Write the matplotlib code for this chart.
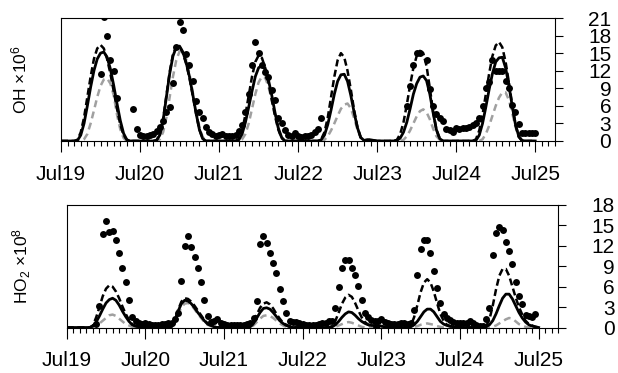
import numpy as np
import matplotlib
matplotlib.use("Agg")
from matplotlib import pyplot as plt

plt.rcParams["font.family"] = ["Liberation Sans", "DejaVu Sans"]
plt.rcParams["mathtext.fontset"] = "custom"
plt.rcParams["mathtext.rm"] = "Liberation Sans"
plt.rcParams["mathtext.it"] = "Liberation Sans"

nan = np.nan

# hourly values from Jul19 00:00 (one row per day, last entry = Jul25 00:00)
oh_obs = [
    nan, nan, nan, nan, nan, nan, nan, nan, nan, nan, nan, nan, 11.5, 21.1, 18.0, 13.9, 12.0, 7.4, nan, nan, nan, nan, 5.4, 2.0,
    1.0, 0.85, 0.9, 1.0, 1.2, 1.7, 2.4, 3.4, 4.9, 5.8, 9.9, 16.1, 20.4, 18.9, 14.9, 12.9, 10.3, 6.9, 5.0, 3.9, 2.4, 1.5, 1.2, 0.9,
    1.0, 1.2, 0.85, 0.9, 0.85, 1.0, 1.75, 2.7, 5.0, 8.1, 13.0, 16.9, 15.0, 13.0, 11.8, 10.9, 8.7, 7.0, 4.0, 3.0, 1.9, 1.0, 0.85, 1.4,
    0.85, 0.6, 0.85, 0.85, 1.0, 1.5, 2.0, 4.0, nan, nan, nan, nan, nan, nan, nan, nan, nan, nan, nan, nan, nan, nan, nan, nan,
    nan, nan, nan, nan, nan, nan, nan, nan, nan, 5.9, 9.4, 12.9, 15.0, 15.0, nan, 13.9, 8.9, 6.0, 4.6, 4.0, 3.4, 2.0, 1.9, 1.6,
    2.2, 2.1, 2.2, 2.2, 2.4, 2.7, 3.0, 4.0, 5.9, 9.0, 10.0, 13.9, 12.0, 12.0, 12.0, 10.2, 9.0, 6.2, 5.0, 2.9, 1.4, 1.4, 1.4, 1.4,
    1.4,
]
oh_mod_a = [
    0, 0, 0, 0, 0, 0.1, 1.0, 3.0, 6.0, 9.2, 12.0, 14.0, 15.0, 15.2, 14.3, 12.3, 9.5, 6.4, 3.5, 1.3, 0.2, 0, 0, 0,
    0, 0, 0, 0, 0, 0.1, 1.0, 3.5, 7.5, 11.5, 14.5, 16.0, 16.2, 15.2, 13.4, 11.0, 8.0, 4.8, 2.0, 0.4, 0, 0, 0, 0,
    0, 0, 0, 0, 0, 0, 0.2, 1.2, 3.2, 5.8, 8.5, 11.0, 12.5, 12.9, 12.2, 10.4, 7.8, 4.8, 2.2, 0.6, 0, 0, 0, 0,
    0, 0, 0, 0, 0, 0, 0, 0.2, 1.0, 2.8, 5.3, 8.0, 10.2, 11.3, 11.4, 10.2, 7.8, 4.9, 2.3, 0.6, 0.1, 0.2, 0.2, 0.1,
    0, 0, 0, 0, 0, 0, 0.1, 0.5, 1.5, 3.2, 5.5, 8.0, 9.8, 10.9, 11.1, 10.3, 8.0, 4.8, 1.9, 0.4, 0, 0, 0, 0,
    0, 0, 0, 0, 0, 0, 0.1, 1.0, 3.0, 5.8, 8.8, 11.5, 13.5, 14.2, 14.3, 12.5, 9.5, 6.0, 2.8, 0.8, 0.1, 0, 0, 0,
    0,
]
oh_mod_b = [
    0, 0, 0, 0, 0, 0.2, 1.5, 4.0, 7.5, 11.0, 14.0, 15.8, 16.4, 15.8, 14.0, 11.5, 8.5, 5.5, 2.8, 1.0, 0.2, 0, 0, 0,
    0, 0, 0, 0, 0, 0.1, 1.1, 3.7, 7.8, 11.8, 14.8, 16.1, 16.2, 15.0, 13.2, 10.8, 7.8, 4.7, 2.0, 0.4, 0, 0, 0, 0,
    0, 0, 0, 0, 0, 0, 0.3, 1.8, 4.5, 7.8, 11.0, 13.5, 14.6, 14.2, 12.5, 10.0, 7.0, 4.2, 1.9, 0.5, 0, 0, 0, 0,
    0, 0, 0, 0, 0, 0, 0, 0.3, 1.5, 4.0, 7.5, 11.0, 13.8, 15.0, 14.3, 12.0, 8.8, 5.3, 2.4, 0.6, 0.1, 0.2, 0.2, 0.1,
    0, 0, 0, 0, 0, 0, 0.2, 1.2, 3.2, 6.2, 9.5, 12.5, 14.5, 15.4, 15.0, 12.8, 9.0, 5.0, 1.9, 0.4, 0, 0, 0, 0,
    0, 0, 0, 0, 0, 0, 0.3, 1.8, 4.5, 8.0, 11.5, 14.5, 16.3, 16.9, 16.0, 13.5, 10.0, 6.2, 2.8, 0.7, 0, 0, 0, 0,
    0,
]
oh_mod_c = [
    0, 0, 0, 0, 0, 0, 0, 0.3, 1.2, 3.0, 5.2, 7.5, 9.4, 10.5, 10.7, 9.8, 7.8, 4.5, 2.0, 0.5, 0, 0, 0, 0,
    0, 0, 0, 0, 0, 0, 0.3, 1.5, 4.0, 7.5, 11.0, 13.8, 15.3, 15.4, 14.0, 11.5, 8.4, 5.2, 2.5, 0.7, 0, 0, 0, 0,
    0, 0, 0, 0, 0, 0, 0, 0.3, 1.2, 3.0, 5.5, 8.0, 10.0, 11.0, 10.8, 9.3, 7.0, 4.5, 2.0, 0.5, 0, 0, 0, 0,
    0, 0, 0, 0, 0, 0, 0, 0, 0.2, 0.8, 1.8, 3.0, 4.3, 5.5, 6.2, 6.4, 5.6, 3.9, 2.0, 0.6, 0.1, 0.1, 0.1, 0,
    0, 0, 0, 0, 0, 0, 0, 0, 0.2, 0.8, 1.8, 3.0, 4.2, 5.1, 5.4, 4.9, 3.7, 2.1, 0.8, 0.2, 0, 0, 0, 0,
    0, 0, 0, 0, 0, 0, 0, 0, 0.3, 1.2, 2.6, 4.3, 6.0, 7.4, 8.3, 8.3, 7.0, 4.8, 2.4, 0.7, 0.1, 0, 0, 0,
    0,
]

ho2_obs = [
    nan, nan, nan, nan, nan, nan, nan, nan, nan, 0.5, 3.1, 13.8, 15.7, 14.1, 14.2, 12.9, 11.0, 8.7, 6.7, 4.0, 1.6, 0.9, 0.6, 0.5,
    0.6, 0.5, 0.4, 0.4, 0.4, 0.5, 0.5, 0.6, 0.7, 1.2, 2.2, 6.9, 12.0, 13.4, 11.8, 10.3, 8.8, 6.7, 4.0, 1.7, 0.8, 0.9, 1.3, 0.6,
    0.5, 0.4, 0.4, 0.3, 0.4, 0.3, 0.4, 0.5, 0.7, 1.35, 3.9, 12.3, 13.4, 12.4, 11.0, 9.5, 8.0, 5.7, 3.9, 2.1, 0.9, 0.8, 0.8, 0.7,
    0.5, 0.4, 0.3, 0.3, 0.4, 0.5, 0.6, 0.7, 0.9, 1.0, 2.8, 5.9, 8.8, 9.9, 9.9, 8.8, 7.7, 6.1, 4.1, 2.2, 1.5, 1.1, 1.0, 0.9,
    1.3, 0.8, 0.6, 0.5, 0.5, 0.5, 0.6, 0.7, 0.5, 0.7, 2.6, 7.7, 11.6, 12.9, 12.9, 10.9, 8.35, 5.8, 3.6, 2.0, 1.4, 1.1, 0.8, 0.7,
    0.6, 0.6, 0.7, 1.0, 0.6, 0.3, 0.2, 0.2, 1.2, 2.9, 10.7, 13.85, 14.8, 14.3, 12.5, 11.2, 9.3, 6.7, 4.6, 3.5, 1.8, 1.7, 1.5, 2.0,
    nan,
]
ho2_mod_a = [
    0, 0, 0, 0, 0, 0, 0, 0, 0.2, 0.8, 1.7, 2.7, 3.6, 4.1, 4.3, 4.0, 3.3, 2.4, 1.6, 0.9, 0.4, 0.2, 0.1, 0,
    0, 0, 0, 0, 0, 0, 0, 0, 0.1, 0.9, 2.4, 3.5, 4.0, 3.9, 3.5, 2.9, 2.2, 1.6, 1.0, 0.5, 0.3, 0.1, 0, 0,
    0, 0, 0, 0, 0, 0, 0, 0, 0.1, 0.6, 1.4, 2.2, 2.8, 2.9, 2.7, 2.2, 1.6, 1.0, 0.6, 0.3, 0.1, 0, 0, 0,
    0, 0, 0, 0, 0, 0, 0, 0, 0, 0.1, 0.4, 0.9, 1.5, 2.0, 2.3, 2.2, 1.8, 1.3, 0.9, 0.6, 0.4, 0.3, 0.3, 0.3,
    0.2, 0.1, 0, 0, 0, 0, 0, 0, 0, 0.1, 0.4, 0.9, 1.6, 2.3, 2.7, 2.7, 2.3, 1.6, 0.9, 0.5, 0.3, 0.2, 0.1, 0,
    0, 0, 0, 0, 0, 0, 0, 0, 0.1, 0.4, 1.0, 2.0, 3.2, 4.3, 4.9, 4.9, 4.2, 3.2, 2.2, 1.4, 0.8, 0.4, 0.2, 0.1,
    0,
]
ho2_mod_b = [
    0, 0, 0, 0, 0, 0, 0, 0, 0.3, 1.5, 3.0, 4.6, 5.7, 6.2, 6.0, 5.3, 4.3, 3.1, 2.0, 1.1, 0.5, 0.2, 0.1, 0,
    0, 0, 0, 0, 0, 0, 0, 0, 0.1, 1.0, 2.6, 3.8, 4.3, 4.2, 3.8, 3.2, 2.5, 1.8, 1.1, 0.6, 0.3, 0.1, 0, 0,
    0, 0, 0, 0, 0, 0, 0, 0, 0.2, 0.9, 1.9, 2.9, 3.5, 3.7, 3.4, 2.8, 2.0, 1.3, 0.7, 0.4, 0.2, 0.1, 0, 0,
    0, 0, 0, 0, 0, 0, 0, 0, 0, 0.2, 1.0, 2.2, 3.5, 4.4, 4.8, 4.5, 3.6, 2.5, 1.5, 0.8, 0.4, 0.2, 0.1, 0,
    0, 0, 0, 0, 0, 0, 0, 0, 0, 0.3, 1.5, 3.3, 5.2, 6.6, 7.1, 6.6, 5.3, 3.6, 2.0, 1.0, 0.4, 0.2, 0, 0,
    0, 0, 0, 0, 0, 0, 0, 0, 0.2, 1.2, 3.2, 5.6, 7.6, 8.6, 8.6, 7.6, 6.0, 4.4, 3.0, 1.9, 1.0, 0.5, 0.3, 0.1,
    0,
]
ho2_mod_c = [
    0, 0, 0, 0, 0, 0, 0, 0, 0.1, 0.3, 0.6, 1.0, 1.4, 1.8, 1.9, 1.7, 1.3, 0.9, 0.5, 0.3, 0.1, 0, 0, 0,
    0, 0, 0, 0, 0, 0, 0, 0, 0, 0.6, 1.9, 3.0, 3.5, 3.6, 3.3, 2.7, 2.0, 1.4, 0.8, 0.4, 0.2, 0.1, 0, 0,
    0, 0, 0, 0, 0, 0, 0, 0, 0, 0.3, 0.8, 1.3, 1.7, 1.8, 1.7, 1.4, 1.0, 0.6, 0.3, 0.1, 0, 0, 0, 0,
    0, 0, 0, 0, 0, 0, 0, 0, 0, 0, 0.1, 0.3, 0.5, 0.7, 0.8, 0.7, 0.5, 0.3, 0.1, 0, 0, 0, 0, 0,
    0, 0, 0, 0, 0, 0, 0, 0, 0, 0, 0.1, 0.2, 0.4, 0.5, 0.6, 0.5, 0.4, 0.2, 0.1, 0, 0, 0, 0, 0,
    0, 0, 0, 0, 0, 0, 0, 0, 0, 0, 0.1, 0.3, 0.6, 0.9, 1.2, 1.4, 1.3, 0.9, 0.5, 0.3, 0.1, 0, 0, 0,
    0,
]

day_labels = ["Jul19", "Jul20", "Jul21", "Jul22", "Jul23", "Jul24", "Jul25"]
hours = np.arange(len(oh_obs))


def draw_panel(ax, obs, mod_a, mod_b, mod_c, ymax, ylabel):
    ax.plot(hours, mod_c, color="#a0a0a0", lw=1.8, ls=(0, (2.8, 1.8)))
    ax.plot(hours, mod_b, color="black", lw=1.8, ls=(0, (2.8, 1.4)))
    ax.plot(hours, mod_a, color="black", lw=2.0)
    ax.plot(hours, obs, "o", color="black", ms=5.0, mew=0)

    ax.set_xlim(0, 150)
    ax.set_ylim(0, ymax)
    ax.set_xticks(np.arange(0, 145, 24))
    ax.set_xticklabels(day_labels)
    ax.set_xticks(np.arange(0, 151, 2), minor=True)
    ax.tick_params(axis="x", which="major", length=8, width=0.8, pad=9, labelsize=15)
    ax.tick_params(axis="x", which="minor", length=3.6, width=0.8)

    ax.yaxis.tick_right()
    ax.set_yticks(np.arange(0, ymax + 1, 3))
    ax.tick_params(axis="y", length=5.5, width=0.8, pad=35, labelsize=15)
    for lab in ax.get_yticklabels():
        lab.set_horizontalalignment("right")

    for sp in ax.spines.values():
        sp.set_linewidth(0.8)

    ax.set_ylabel(ylabel, fontsize=12.5)
    ax.yaxis.set_label_position("left")


fig = plt.figure(figsize=(6.18, 3.73), dpi=100)
ax1 = fig.add_axes([61 / 618, 1 - 141 / 373, 494 / 618, 123 / 373])
ax2 = fig.add_axes([66.7 / 618, 1 - 327.5 / 373, 491.6 / 618, 122.5 / 373])

draw_panel(ax1, oh_obs, oh_mod_a, oh_mod_b, oh_mod_c, 21, "OH \u00d710$^{6}$")
draw_panel(ax2, ho2_obs, ho2_mod_a, ho2_mod_b, ho2_mod_c, 18, "HO$_{2}$ \u00d710$^{8}$")
ax1.yaxis.set_label_coords(-0.063, 0.5)
ax2.yaxis.set_label_coords(-0.069, 0.5)

fig.savefig("out.png", dpi=100)
